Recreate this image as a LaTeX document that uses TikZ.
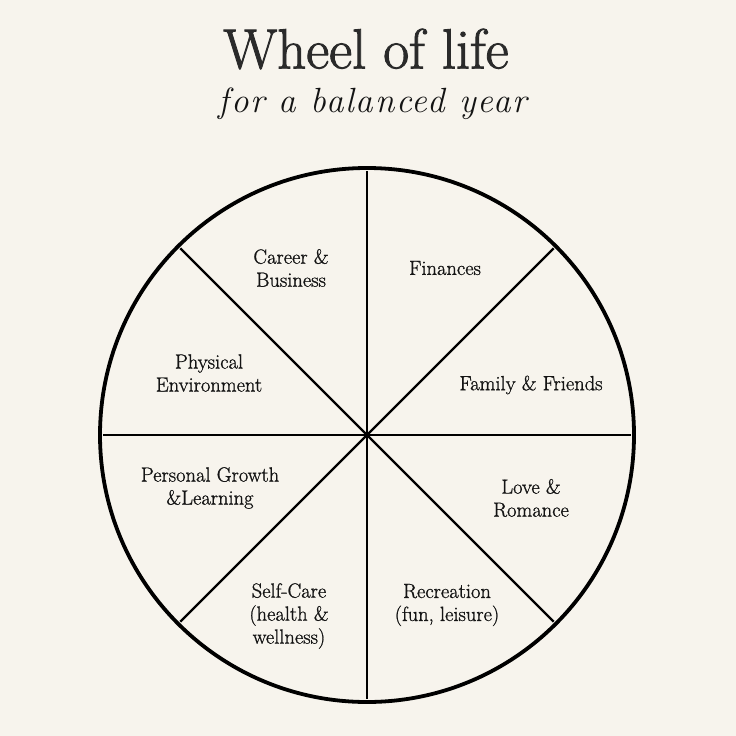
\documentclass[tikz,border=0pt]{standalone}
\usepackage{fontspec}
\usetikzlibrary{calc}
\definecolor{bg}{HTML}{F7F4ED}
\definecolor{ink}{HTML}{141414}
\definecolor{titleink}{HTML}{2A2A2A}
\newfontfamily\lblfont{Latin Modern Roman}[FakeBold=1.0]
\newfontfamily\titlefont{Latin Modern Roman}[FakeBold=1.6]
\newfontfamily\subfont{Latin Modern Roman}[LetterSpace=5]
\begin{document}
\begin{tikzpicture}[x=1pt,y=-1pt,
  lbl/.style={font=\lblfont\fontsize{20.5}{23}\selectfont, text=ink, align=center, inner sep=0pt},
  rim/.style={draw=black, line width=3.8pt},
  spoke/.style={draw=black, line width=2.4pt}]
\fill[bg] (0,0) rectangle (736,736);
\useasboundingbox (0,0) rectangle (736,736);
\coordinate (c) at (367,435);
\foreach \a [count=\i from 0] in {0,45,...,315}
  \coordinate (p\i) at ($(c)+(\a:264pt)$);
\draw[spoke] (p0) -- (p4);
\draw[spoke] (p1) -- (p5);
\draw[spoke] (p2) -- (p6);
\draw[spoke] (p3) -- (p7);
\draw[rim] (c) circle (267pt);
\node[text=titleink, font=\titlefont\fontsize{56.5}{60}\selectfont, inner sep=0pt] (title) at (366,49) {Wheel of life};
\node[text=ink, font=\subfont\fontsize{35}{38}\selectfont\itshape, inner sep=0pt] (sub) at (373,104) {for a balanced year};
\node[lbl] (career) at (291,268) {Career \&\\Business};
\node[lbl] (fin) at (445,268) {Finances};
\node[lbl] (phys) at (209,373) {Physical\\Environment};
\node[lbl] (fam) at (531,385) {Family \& Friends};
\node[lbl] (pers) at (210,488) {Personal Growth\\\&Learning};
\node[lbl] (love) at (531,498) {Love \&\\Romance};
\node[lbl] (self) at (289,616) {Self-Care\\(health \&\\wellness)};
\node[lbl] (rec) at (447,605) {Recreation\\(fun, leisure)};
\end{tikzpicture}
\end{document}
